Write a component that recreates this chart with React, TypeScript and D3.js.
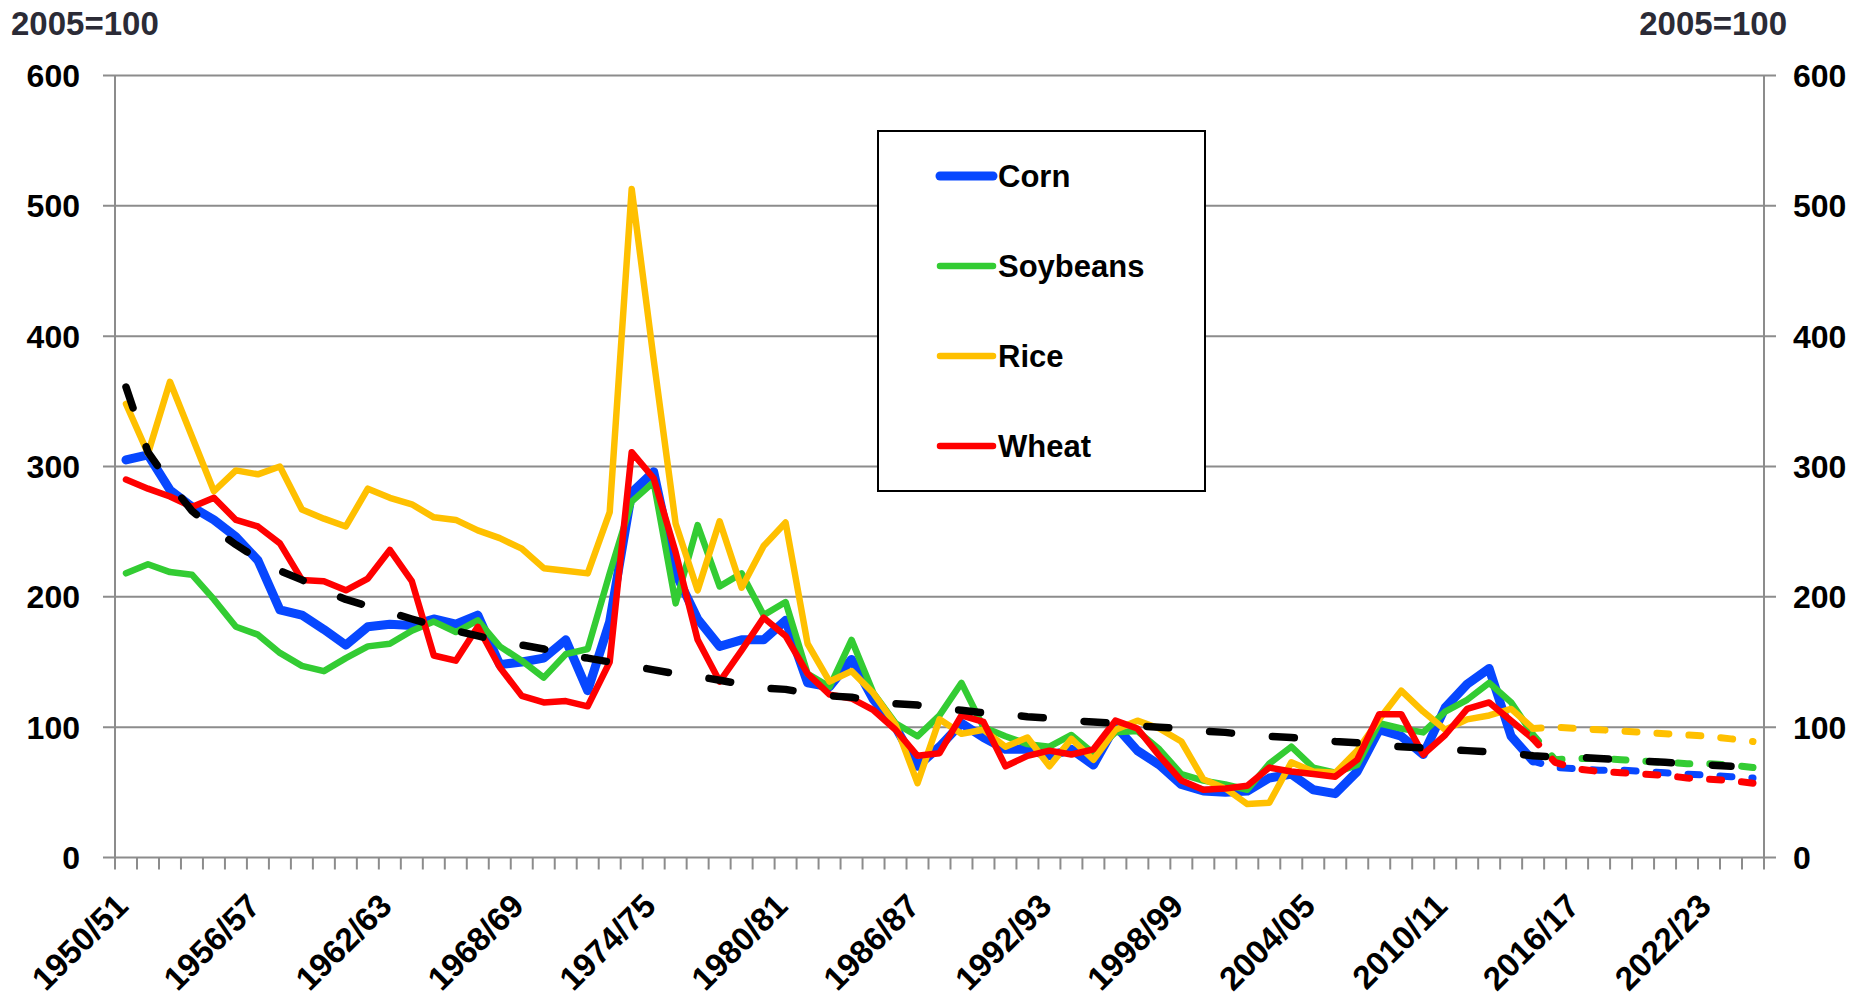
import * as d3 from 'd3';

// crop seasons on the category axis
const seasons = [
  '1950/51', '1951/52', '1952/53', '1953/54', '1954/55', '1955/56', '1956/57', '1957/58', '1958/59', '1959/60',
  '1960/61', '1961/62', '1962/63', '1963/64', '1964/65', '1965/66', '1966/67', '1967/68', '1968/69', '1969/70',
  '1970/71', '1971/72', '1972/73', '1973/74', '1974/75', '1975/76', '1976/77', '1977/78', '1978/79', '1979/80',
  '1980/81', '1981/82', '1982/83', '1983/84', '1984/85', '1985/86', '1986/87', '1987/88', '1988/89', '1989/90',
  '1990/91', '1991/92', '1992/93', '1993/94', '1994/95', '1995/96', '1996/97', '1997/98', '1998/99', '1999/00',
  '2000/01', '2001/02', '2002/03', '2003/04', '2004/05', '2005/06', '2006/07', '2007/08', '2008/09', '2009/10',
  '2010/11', '2011/12', '2012/13', '2013/14', '2014/15', '2015/16', '2016/17', '2017/18', '2018/19', '2019/20',
  '2020/21', '2021/22', '2022/23', '2023/24', '2024/25',
];
const tickLabels = ['1950/51', '1956/57', '1962/63', '1968/69', '1974/75', '1980/81', '1986/87', '1992/93', '1998/99', '2004/05', '2010/11', '2016/17', '2022/23'];
const yTicks = [0, 100, 200, 300, 400, 500, 600];

// real prices, 2005=100, 1950/51 - 2014/15
const corn = [305, 309, 282, 269, 259, 246, 228, 190, 186, 175, 163, 177, 179, 178, 183, 179, 186, 148, 150, 153,
  167, 128, 181, 280, 296, 218, 183, 162, 167, 167, 182, 134, 131, 152, 121, 100, 70, 85, 103, 92,
  83, 83, 78, 83, 71, 101, 82, 71, 56, 51, 50, 51, 61, 64, 52, 49, 66, 98, 93, 79,
  115, 133, 145, 93, 74];
const soybeans = [218, 225, 219, 217, 198, 177, 171, 157, 147, 143, 153, 162, 164, 174, 181, 173, 182, 162, 151, 138,
  156, 160, 218, 273, 288, 195, 255, 208, 218, 186, 196, 141, 131, 167, 126, 103, 93, 109, 134, 100,
  93, 87, 85, 94, 80, 96, 97, 83, 64, 59, 56, 52, 72, 85, 69, 65, 71, 103, 99, 96,
  112, 121, 134, 119, 94];
const rice = [348, 310, 365, 323, 281, 297, 294, 300, 267, 260, 254, 283, 276, 271, 261, 259, 251, 245, 237, 222,
  220, 218, 265, 513, 382, 256, 205, 258, 207, 239, 257, 164, 135, 143, 126, 102, 57, 106, 95, 98,
  85, 92, 70, 91, 75, 98, 105, 99, 89, 60, 53, 41, 42, 73, 66, 65, 82, 106, 128, 112,
  98, 106, 109, 114, 99];
const wheat = [290, 283, 277, 269, 276, 259, 254, 241, 213, 212, 205, 214, 236, 212, 155, 151, 177, 146, 124, 119,
  120, 116, 150, 311, 291, 234, 167, 135, 159, 184, 170, 141, 125, 122, 113, 98, 78, 80, 109, 104,
  70, 78, 82, 79, 83, 105, 99, 78, 59, 52, 53, 55, 69, 66, 64, 62, 75, 110, 110, 79,
  94, 114, 119, 105, 91];

// projections, 2014/15 - 2024/25
const cornProj = [74, 69, 68, 67, 67, 66, 65, 64, 63, 62, 61];
const soybeansProj = [94, 75, 76, 76, 75, 74, 73, 72, 72, 71, 69];
const riceProj = [99, 100, 99, 98, 97, 96, 95, 94, 93, 91, 89];
const wheatProj = [91, 73, 68, 66, 65, 64, 63, 61, 60, 59, 57];

// long-run trend, 1950/51 - 2023/24
const trend = [361, 311, 287, 266, 252, 240, 229, 220, 213, 205, 198, 193, 188, 183, 178, 174, 170, 166, 163, 160,
  155, 153, 150, 147, 144, 141, 139, 136, 133, 130, 129, 126, 124, 123, 120, 118, 117, 114, 113, 111,
  110, 108, 107, 105, 104, 103, 101, 100, 99, 97, 96, 94, 93, 92, 91, 89, 88, 86, 85, 84,
  83, 82, 81, 80, 78, 77, 77, 76, 75, 74, 73, 72, 71, 70];

const projStart = seasons.indexOf('2014/15');

const series = [
  { name: 'Corn', color: '#0747ff', width: 9, hist: corn, proj: cornProj },
  { name: 'Soybeans', color: '#33cc33', width: 6.5, hist: soybeans, proj: soybeansProj },
  { name: 'Rice', color: '#ffc000', width: 6.5, hist: rice, proj: riceProj },
  { name: 'Wheat', color: '#ff0000', width: 6.5, hist: wheat, proj: wheatProj },
];

const W = 1866;
const H = 1000;
const font = '"Liberation Sans", Arial, sans-serif';
const grid = '#8c8c8c';

export default function App() {
  const x = d3.scaleBand<string>().domain(seasons).range([115, 1764]).paddingInner(0).paddingOuter(0);
  const y = d3.scaleLinear().domain([0, 600]).range([857.5, 75.5]);
  const bw = x.bandwidth();
  const cx = (s: string) => (x(s) as number) + bw / 2;

  const lineFrom = (start: number) =>
    d3.line<number>()
      .x((d, i) => cx(seasons[start + i]))
      .y(d => y(d));

  const boundaries = seasons.map(s => x(s) as number).concat([1764]);

  return (
    <svg width={W} height={H} style={{ position: 'absolute', left: 0, top: 0, display: 'block', background: '#fff' }}
      fontFamily={font} fontWeight="bold">
      <rect width={W} height={H} fill="#fff" />

      {/* unit labels */}
      <text x={11} y={35} fontSize={33} fill="#2b2b36">2005=100</text>
      <text x={1787} y={35} fontSize={33} fill="#2b2b36" textAnchor="end">2005=100</text>

      {/* gridlines */}
      {yTicks.map(t => (
        <line key={t} x1={103} x2={1776} y1={y(t)} y2={y(t)} stroke={grid} strokeWidth={2} />
      ))}
      <line x1={115} x2={115} y1={y(600)} y2={y(0)} stroke={grid} strokeWidth={2} />
      <line x1={1764} x2={1764} y1={y(600)} y2={y(0)} stroke={grid} strokeWidth={2} />
      {boundaries.map((b, i) => (
        <line key={i} x1={b} x2={b} y1={y(0)} y2={y(0) + 12} stroke={grid} strokeWidth={2} />
      ))}

      {/* y tick labels */}
      {yTicks.map(t => (
        <g key={t} fontSize={32} fill="#000">
          <text x={80} y={y(t)} dy="0.36em" textAnchor="end">{t}</text>
          <text x={1793} y={y(t)} dy="0.36em">{t}</text>
        </g>
      ))}

      {/* x tick labels */}
      {tickLabels.map(s => (
        <text key={s} transform={`translate(${cx(s) + 4},908) rotate(-45)`} textAnchor="end" fontSize={33} fill="#000">{s}</text>
      ))}

      {/* historical series */}
      {series.map(s => (
        <path key={s.name} d={lineFrom(0)(s.hist) as string} fill="none" stroke={s.color} strokeWidth={s.width}
          strokeLinejoin="round" strokeLinecap="round" />
      ))}

      {/* projections */}
      {series.map(s => (
        <path key={s.name + 'p'} d={lineFrom(projStart)(s.proj) as string} fill="none" stroke={s.color} strokeWidth={7}
          strokeLinejoin="round" strokeLinecap="round" strokeDasharray="12 20" strokeDashoffset={4} />
      ))}

      {/* trend */}
      <path d={lineFrom(0)(trend) as string} fill="none" stroke="#000" strokeWidth={7.5}
        strokeLinecap="round" strokeLinejoin="round" strokeDasharray="22 41" />

      {/* legend */}
      <rect x={878} y={131} width={327} height={360} fill="#fff" stroke="#000" strokeWidth={2} />
      {series.map((s, i) => {
        const ly = 176 + i * 90;
        return (
          <g key={s.name}>
            <line x1={940} x2={993} y1={ly} y2={ly} stroke={s.color} strokeWidth={s.width} strokeLinecap="round" />
            <text x={998} y={ly + 11} fontSize={31} fill="#000">{s.name}</text>
          </g>
        );
      })}
    </svg>
  );
}
